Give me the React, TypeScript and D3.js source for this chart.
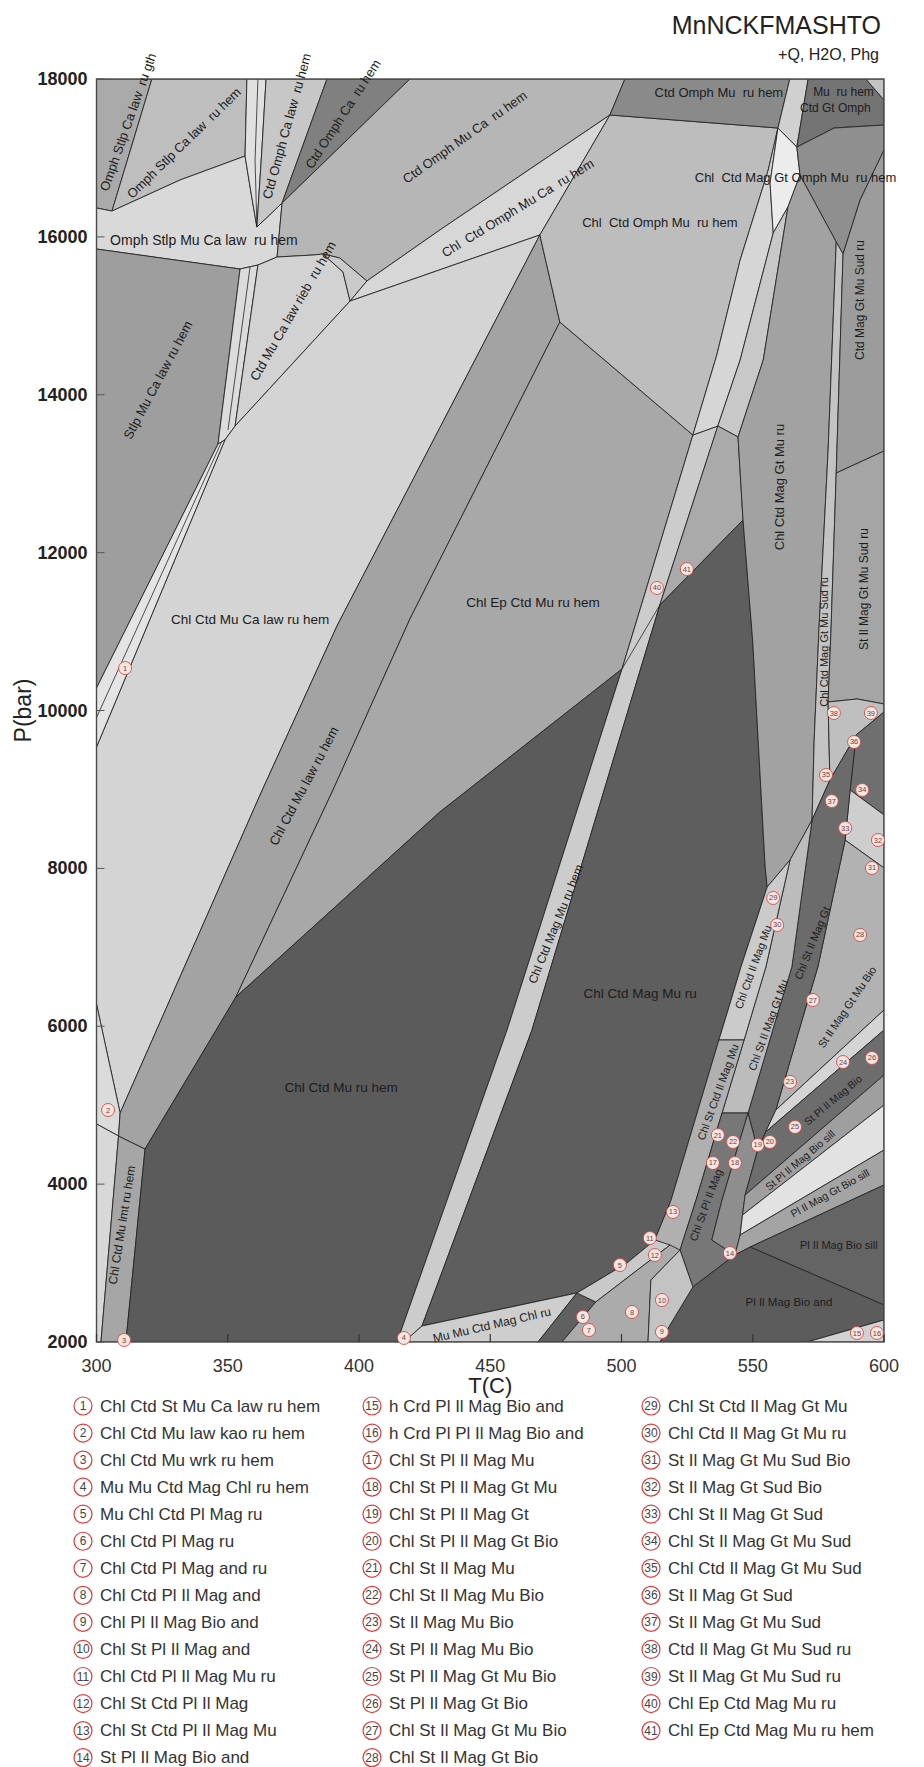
import React, { useRef, useEffect } from 'react';
import * as d3 from 'd3';

type Pt = [number, number];

// axis values
const tempTicks = [300, 350, 400, 450, 500, 550, 600];
const pressTicks = [2000, 4000, 6000, 8000, 10000, 12000, 14000, 16000, 18000];

// corner points of the assemblage fields, [T (C), P (bar)]
const nodes: Record<string, Pt> = {
  TL: [300, 18000], TR: [600, 18000], BL: [300, 2000], BR: [600, 2000],
  a2: [321.1, 18000], a3: [305.9, 16327], a4: [300, 16366], a5: [300, 15846],
  a6: [331.8, 16720], a7: [356.6, 17024], a8: [357.3, 18000], a9: [364.6, 18000],
  a10: [361.5, 18000], a11: [360.4, 16974], a12: [361.1, 16125], a13: [358.5, 16632],
  a14: [363.0, 17100], a15: [387.8, 18000], a16: [370.7, 16429], a17: [419.4, 18000],
  a18: [368.8, 15745], a19: [361.5, 15643], a20: [354.7, 15593], a21: [382.5, 15770],
  a22: [386.3, 15783], a23: [392.7, 15732], a24: [403.0, 15441], a25: [393.9, 15555],
  a26: [396.6, 15187], a28: [348.2, 13883], a29: [346.3, 13376], a30: [352.8, 13604],
  a31: [348.9, 13427], a32: [300, 10285], a33: [300, 9537], a34: [430.8, 16087],
  a35: [495.6, 17544], a36: [468.9, 16024], a37: [501.3, 18000], a38: [564.1, 18000],
  a39: [559.6, 17379],
  c1: [476.5, 14921], c2: [391.6, 11070], c3: [362.3, 8929], c4: [309.0, 4901],
  c5: [300, 6282], c6: [308.4, 4610], c7: [300, 4762], c8: [318.5, 4445],
  c9: [301.7, 2000], c10: [311.2, 2000], c11: [419.4, 11159], c12: [390.1, 8993],
  c13: [353.1, 6370], c14: [527.2, 13490], c15: [500.2, 10526], c16: [430.8, 8714],
  c18: [456.4, 5952], c19: [414.5, 2000], c20: [536.7, 13604], c21: [514.6, 11336],
  c22: [465.9, 5952], c23: [424.0, 2203], c24: [544.4, 13465], c25: [546.3, 12413],
  c26: [550.0, 10868], c27: [554.7, 8030], c28: [417.1, 2000],
  d1: [555.9, 16847], d2: [545.2, 15707], d3: [536.3, 14503], d4: [556.6, 16682],
  d5: [557.8, 16049], d6: [545.2, 14440], d7: [566.8, 17138], d8: [568.0, 16783],
  d9: [563.4, 16378], d10: [554.0, 14440],
  e1: [571.1, 18000], e2: [593.1, 18000], e3: [600, 17734], e4: [600, 17417],
  e5: [581.0, 17379], e6: [600, 17100], e7: [590.9, 16467], e8: [584.4, 15783],
  e9: [581.8, 15935],
  r1: [578.7, 13287], r2: [575.2, 11007], r3: [573.4, 9626], r4: [581.8, 13008],
  r5: [579.8, 11007], r6: [578.7, 10108], r7: [600, 13287], r8: [600, 10082], r9: [589.8, 10146],
  t0: [555.5, 7764], t1: [564.2, 8106], t2: [572.6, 8613], t3: [579.4, 9119], t4: [589.4, 9690], t5: [600, 9981],
  x1: [600, 8676], x2: [587.1, 8993], x3: [600, 8005], x4: [585.2, 8359],
  l0a: [545.5, 6751], l0b: [540.6, 6206], l0c: [537.1, 5826], l0d: [528.8, 4901], l0e: [518.9, 3799], l0f: [512.7, 3292],
  l1a: [555.0, 6751], l1b: [550.1, 6206], l1c: [546.7, 5826], l1d: [538.3, 4901], l1e: [528.4, 3799], l1f: [522.3, 3165],
  l2a: [564.9, 6751], l2b: [559.9, 6206], l2c: [548.2, 4901], l2d: [538.3, 3799], l2e: [534.4, 3292],
  l3a: [574.8, 6751], l3b: [569.9, 6206], l3c: [558.8, 4939],
  g1: [554.9, 4660], g2: [551.9, 4432], g3: [547.1, 3862], g4: [546.1, 3609], g5: [545.2, 3356], g6: [543.2, 3102], g7: [549.0, 3203],
  h1: [600, 6206], h2: [600, 5952], h3: [600, 5382], h4: [600, 5002], h5: [600, 4432], h6: [600, 3989], h7: [600, 2469], h8: [600, 2279],
  b1: [570.7, 2000], b2: [527.2, 2697], b3: [514.6, 2000], b4: [511.2, 2785], b5: [510.1, 2000], b6: [518.5, 3229],
  b7: [490.2, 2507], b8: [477.3, 2000], b9: [468.2, 2000], b10: [483.0, 2621], b11: [502.1, 3001],
  m1: [358.5, 15618], m2: [350.1, 13553], m3: [347.6, 13400], m4: [300, 9910],
};

// fields as rings of node names
const fields: { id: string; path: string[] }[] = [
  { id: 'f01', path: ['TL', 'a2', 'a3', 'a4'] },
  { id: 'f02', path: ['a2', 'a8', 'a7', 'a6', 'a3'] },
  { id: 'f03', path: ['a4', 'a3', 'a6', 'a7', 'a13', 'a12', 'a16', 'a18', 'a19', 'a20', 'a5'] },
  { id: 'f04', path: ['a8', 'a9', 'a14', 'a12', 'a13', 'a7'] },
  { id: 'f05', path: ['a9', 'a15', 'a16', 'a12', 'a14'] },
  { id: 'f06', path: ['a15', 'a17', 'a16'] },
  { id: 'f07', path: ['a17', 'a37', 'a35', 'a34', 'a24', 'a23', 'a22', 'a21', 'a18', 'a16'] },
  { id: 'f08', path: ['a5', 'a20', 'a28', 'a29', 'a32'] },
  { id: 'f09', path: ['a20', 'a19', 'a30', 'a31', 'a29', 'a28'] },
  { id: 'f10', path: ['a19', 'a18', 'a21', 'a22', 'a25', 'a26', 'a30'] },
  { id: 'f11', path: ['a22', 'a23', 'a24', 'a26', 'a25'] },
  { id: 'f12', path: ['a26', 'a24', 'a34', 'a35', 'a36'] },
  { id: 'f13', path: ['a30', 'a26', 'a36', 'c2', 'c3', 'c4', 'c5', 'a33', 'a31'] },
  { id: 'f14', path: ['a29', 'a31', 'a33', 'a32'] },
  { id: 'f15', path: ['c5', 'c4', 'c6', 'c7'] },
  { id: 'f16', path: ['c7', 'c6', 'c9', 'BL'] },
  { id: 'f17', path: ['c6', 'c8', 'c10', 'c9'] },
  { id: 'f18', path: ['a36', 'c1', 'c11', 'c12', 'c13', 'c8', 'c6', 'c4', 'c3', 'c2'] },
  { id: 'f19', path: ['c1', 'c14', 'c15', 'c16', 'c13', 'c12', 'c11'] },
  { id: 'f20', path: ['c8', 'c13', 'c16', 'c15', 'c18', 'c19', 'c10'] },
  { id: 'f21', path: ['c14', 'c20', 'c21', 'c22', 'c23', 'c28', 'c19', 'c18', 'c15'] },
  { id: 'f22', path: ['a35', 'a39', 'd1', 'd2', 'd3', 'c14', 'c1', 'a36'] },
  { id: 'f23', path: ['a37', 'a38', 'a39', 'a35'] },
  { id: 'f24', path: ['a39', 'd4', 'd5', 'd6', 'c20', 'c14', 'd3', 'd2', 'd1'] },
  { id: 'f25', path: ['a39', 'd7', 'd8', 'd9', 'd5', 'd4'] },
  { id: 'f26', path: ['d5', 'd9', 'd10', 'c24', 'c20', 'd6'] },
  { id: 'f27', path: ['c20', 'c24', 'c25', 'c21'] },
  { id: 'f28', path: ['c21', 'c25', 'c26', 'c27', 't0', 'l0a', 'l0b', 'l0c', 'l0d', 'l0e', 'l0f', 'b11', 'b10', 'c23', 'c22'] },
  { id: 'f29', path: ['c28', 'c23', 'b10', 'b9'] },
  { id: 'f30', path: ['a38', 'e1', 'd7', 'a39'] },
  { id: 'f31', path: ['e1', 'e2', 'e3', 'e4', 'e5', 'd7'] },
  { id: 'f32', path: ['e2', 'TR', 'e3'] },
  { id: 'f33', path: ['d7', 'e5', 'e4', 'e6', 'e7', 'e8', 'e9', 'd8'] },
  { id: 'f34', path: ['d8', 'e9', 'r1', 'r2', 'r3', 't2', 't1', 't0', 'c27', 'c26', 'c25', 'c24', 'd10', 'd9'] },
  { id: 'f35', path: ['e9', 'e8', 'r4', 'r5', 'r6', 't3', 't2', 'r3', 'r2', 'r1'] },
  { id: 'f36', path: ['e8', 'e7', 'e6', 'r7', 'r4'] },
  { id: 'f37', path: ['r4', 'r7', 'r8', 'r9', 'r6', 'r5'] },
  { id: 'f38', path: ['r6', 'r9', 'r8', 't5', 't4', 't3'] },
  { id: 'f39', path: ['t4', 't5', 'x1', 'x2'] },
  { id: 'f40', path: ['x2', 'x1', 'x3', 'x4'] },
  { id: 'f41', path: ['x4', 'x3', 'h1', 'l3c', 'l3b', 'l3a'] },
  { id: 'f42', path: ['t2', 't3', 't4', 'x2', 'x4', 'l3a', 'l3b', 'l3c', 'g1', 'g2', 'l2c', 'l2b', 'l2a'] },
  { id: 'f43', path: ['t1', 't2', 'l2a', 'l2b', 'l2c', 'l1d', 'l1c', 'l1b', 'l1a'] },
  { id: 'f44', path: ['t0', 't1', 'l1a', 'l1b', 'l1c', 'l0c', 'l0b', 'l0a'] },
  { id: 'f45', path: ['l0c', 'l1c', 'l1d', 'l1e', 'l1f', 'l0f', 'l0e', 'l0d'] },
  { id: 'f46', path: ['l1d', 'l2c', 'l2d', 'l2e', 'g6', 'b2', 'l1f', 'l1e'] },
  { id: 'f47', path: ['l2c', 'g2', 'g3', 'g4', 'g5', 'g6', 'l2e', 'l2d'] },
  { id: 'f48', path: ['l3c', 'h1', 'h2', 'g1'] },
  { id: 'f49', path: ['g1', 'h2', 'h3', 'g3', 'g2'] },
  { id: 'f50', path: ['g3', 'h3', 'h4', 'g4'] },
  { id: 'f51', path: ['g4', 'h4', 'h5', 'g5'] },
  { id: 'f52', path: ['g5', 'h5', 'h6', 'g7', 'g6'] },
  { id: 'f53', path: ['g7', 'h6', 'h7'] },
  { id: 'f54', path: ['b3', 'b2', 'g6', 'g7', 'h7', 'h8', 'b1'] },
  { id: 'f55', path: ['b1', 'h8', 'BR'] },
  { id: 'f56', path: ['b9', 'b10', 'b7', 'b8'] },
  { id: 'f57', path: ['b10', 'b11', 'l0f', 'b6', 'b7'] },
  { id: 'f58', path: ['b8', 'b7', 'b6', 'l1f', 'b4', 'b5'] },
  { id: 'f59', path: ['b5', 'b4', 'l1f', 'b2', 'b3'] },
];

const shades: Record<string, string> = {
  f01: '#aaaaaa', f02: '#bebebe', f03: '#d9d9d9', f04: '#e0e0e0', f05: '#c7c7c7',
  f06: '#808080', f07: '#b6b6b6', f08: '#9e9e9e', f09: '#dcdcdc', f10: '#d2d2d2',
  f11: '#cacaca', f12: '#d7d7d7', f13: '#d4d4d4', f14: '#e4e4e4', f15: '#dbdbdb',
  f16: '#d8d8d8', f17: '#a6a6a6', f18: '#a3a3a3', f19: '#a8a8a8', f20: '#5b5b5b',
  f21: '#cccccc', f22: '#bdbdbd', f23: '#8a8a8a', f24: '#d6d6d6', f25: '#ececec',
  f26: '#c8c8c8', f27: '#aaaaaa', f28: '#5e5e5e', f29: '#cecece', f30: '#d0d0d0',
  f31: '#747474', f32: '#c4c4c4', f33: '#8f8f8f', f34: '#a2a2a2', f35: '#c3c3c3',
  f36: '#9c9c9c', f37: '#a5a5a5', f38: '#bfbfbf', f39: '#6f6f6f', f40: '#cecece',
  f41: '#b2b2b2', f42: '#6b6b6b', f43: '#bcbcbc', f44: '#cbcbcb', f45: '#b0b0b0',
  f46: '#777777', f47: '#8e8e8e', f48: '#d5d5d5', f49: '#6d6d6d', f50: '#9f9f9f',
  f51: '#e2e2e2', f52: '#a4a4a4', f53: '#646464', f54: '#5c5c5c', f55: '#d2d2d2',
  f56: '#606060', f57: '#c9c9c9', f58: '#ababab', f59: '#c3c3c3',
};

// extra boundaries inside narrow strips
const innerLines: string[][] = [
  ['a10', 'a11', 'a12'],
  ['m1', 'm2'],
  ['m3', 'm4'],
  ['c15', 'c21'],
];

const fieldLabels: { text: string; t: number; p: number; a: number; s: number; anchor?: string }[] = [
  { text: 'Omph Stlp Ca law  ru gth', t: 312.0, p: 17455, a: -70.5, s: 13 },
  { text: 'Omph Stlp Ca law  ru hem', t: 333.3, p: 17189, a: -44, s: 13 },
  { text: 'Ctd Omph Ca law  ru hem', t: 372.5, p: 17404, a: -74.5, s: 13 },
  { text: 'Ctd Omph Ca  ru hem', t: 393.9, p: 17556, a: -57, s: 13 },
  { text: 'Omph Stlp Mu Ca law  ru hem', t: 340.9, p: 15960, a: 0, s: 14 },
  { text: 'Ctd Omph Mu Ca  ru hem', t: 440.3, p: 17265, a: -35.5, s: 13 },
  { text: 'Chl  Ctd Omph Mu Ca  ru hem', t: 460.5, p: 16366, a: -31.5, s: 13 },
  { text: 'Ctd Omph Mu  ru hem', t: 537.1, p: 17835, a: 0, s: 13 },
  { text: 'Chl  Ctd Omph Mu  ru hem', t: 514.6, p: 16188, a: 0, s: 13 },
  { text: 'Chl  Ctd Mag Gt Omph Mu  ru hem', t: 527.9, p: 16746, a: 0, s: 13, anchor: 'start' },
  { text: 'Mu  ru hem', t: 573.0, p: 17835, a: 0, s: 12, anchor: 'start' },
  { text: 'Ctd Gt Omph', t: 568.0, p: 17632, a: 0, s: 12, anchor: 'start' },
  { text: 'Stlp Mu Ca law ru hem', t: 323.4, p: 14187, a: -62, s: 13 },
  { text: 'Ctd Mu Ca law rieb  ru hem', t: 374.8, p: 15061, a: -60, s: 13 },
  { text: 'Chl Ctd Mu Ca law ru hem', t: 358.5, p: 11159, a: 0, s: 13.5 },
  { text: 'Chl Ctd Mu law ru hem', t: 379.0, p: 9043, a: -62, s: 13 },
  { text: 'Chl Ep Ctd Mu ru hem', t: 466.3, p: 11362, a: 0, s: 13.5 },
  { text: 'Chl Ctd Mu ru hem', t: 393.2, p: 5218, a: 0, s: 13.5 },
  { text: 'Chl Ctd Mu lmt ru hem', t: 309.7, p: 3482, a: -81, s: 12 },
  { text: 'Chl Ctd Mag Mu ru hem', t: 475.0, p: 7295, a: -68, s: 12 },
  { text: 'Chl Ctd Mag Mu ru', t: 507.1, p: 6421, a: 0, s: 13.5 },
  { text: 'Chl Ctd Mag Gt Mu ru', t: 560.3, p: 12831, a: -90, s: 13 },
  { text: 'Ctd Mag Gt Mu Sud ru', t: 590.8, p: 15200, a: -90, s: 12 },
  { text: 'Chl Ctd Mag Gt Mu Sud ru', t: 577.0, p: 10868, a: -90, s: 11 },
  { text: 'St Il Mag Gt Mu Sud ru', t: 592.3, p: 11539, a: -90, s: 12 },
  { text: 'Chl Ctd Il Mag Mu', t: 550.1, p: 6751, a: -70, s: 11 },
  { text: 'Chl St Ctd Il Mag Mu', t: 536.7, p: 5167, a: -70, s: 11 },
  { text: 'Chl St Il Mag Gt Mu', t: 555.8, p: 6016, a: -70, s: 11 },
  { text: 'Chl St Il Mag Gt', t: 572.6, p: 7055, a: -68, s: 11 },
  { text: 'St Il Mag Gt Mu Bio', t: 585.9, p: 6244, a: -56, s: 11 },
  { text: 'Chl St Pl Il Mag', t: 532.1, p: 3736, a: -70, s: 11 },
  { text: 'St Pl Il Mag Bio', t: 580.5, p: 5066, a: -40, s: 10.5 },
  { text: 'St Pl Il Mag Bio sill', t: 568.0, p: 4306, a: -40, s: 10.5 },
  { text: 'Pl Il Mag Gt Bio sill', t: 579.4, p: 3888, a: -29, s: 10.5 },
  { text: 'Pl Il Mag Bio sill', t: 568.0, p: 3229, a: 0, s: 11, anchor: 'start' },
  { text: 'Pl Il Mag Bio and', t: 563.8, p: 2507, a: 0, s: 11.5 },
  { text: 'Mu Mu Ctd Mag Chl ru', t: 450.6, p: 2215, a: -13, s: 12 },
];

// numbered small fields: [number, T, P]
const markers: [number, number, number][] = [
  [1, 310.9, 10538], [2, 304.4, 4939], [3, 310.5, 2025], [4, 417.1, 2051], [5, 499.4, 2975],
  [6, 485.3, 2317], [7, 487.6, 2152], [8, 504.0, 2380], [9, 515.4, 2127], [10, 515.4, 2532],
  [11, 510.8, 3317], [12, 512.7, 3102], [13, 519.6, 3647], [14, 541.3, 3127], [15, 589.7, 2114],
  [16, 597.3, 2114], [17, 534.8, 4268], [18, 543.2, 4268], [19, 551.9, 4496], [20, 556.5, 4534],
  [21, 536.7, 4622], [22, 542.5, 4534], [23, 564.2, 5294], [24, 584.4, 5547], [25, 566.1, 4724],
  [26, 595.4, 5598], [27, 572.9, 6332], [28, 590.9, 7156], [29, 557.8, 7625], [30, 559.3, 7283],
  [31, 595.4, 8005], [32, 597.7, 8359], [33, 585.2, 8511], [34, 591.7, 8993], [35, 577.9, 9183],
  [36, 588.6, 9601], [37, 580.1, 8853], [38, 580.9, 9968], [39, 595.0, 9968], [40, 513.5, 11552],
  [41, 524.9, 11792],
];

const legendItems = [
  'Chl Ctd St Mu Ca law ru hem', 'Chl Ctd Mu law kao ru hem', 'Chl Ctd Mu wrk ru hem',
  'Mu Mu Ctd Mag Chl ru hem', 'Mu Chl Ctd Pl Mag ru', 'Chl Ctd Pl Mag ru', 'Chl Ctd Pl Mag and ru',
  'Chl Ctd Pl Il Mag and', 'Chl Pl Il Mag Bio and', 'Chl St Pl Il Mag and', 'Chl Ctd Pl Il Mag Mu ru',
  'Chl St Ctd Pl Il Mag', 'Chl St Ctd Pl Il Mag Mu', 'St Pl Il Mag Bio and',
  'h Crd Pl Il Mag Bio and', 'h Crd Pl Pl Il Mag Bio and', 'Chl St Pl Il Mag Mu', 'Chl St Pl Il Mag Gt Mu',
  'Chl St Pl Il Mag Gt', 'Chl St Pl Il Mag Gt Bio', 'Chl St Il Mag Mu', 'Chl St Il Mag Mu Bio',
  'St Il Mag Mu Bio', 'St Pl Il Mag Mu Bio', 'St Pl Il Mag Gt Mu Bio', 'St Pl Il Mag Gt Bio',
  'Chl St Il Mag Gt Mu Bio', 'Chl St Il Mag Gt Bio',
  'Chl St Ctd Il Mag Gt Mu', 'Chl Ctd Il Mag Gt Mu ru', 'St Il Mag Gt Mu Sud Bio', 'St Il Mag Gt Sud Bio',
  'Chl St Il Mag Gt Sud', 'Chl St Il Mag Gt Mu Sud', 'Chl Ctd Il Mag Gt Mu Sud', 'St Il Mag Gt Sud',
  'St Il Mag Gt Mu Sud', 'Ctd Il Mag Gt Mu Sud ru', 'St Il Mag Gt Mu Sud ru', 'Chl Ep Ctd Mag Mu ru',
  'Chl Ep Ctd Mag Mu ru hem',
];

const W = 924;
const H = 1767;
const plot = { left: 96.5, right: 884, top: 79, bottom: 1342 };
const font = "'Liberation Sans', Arial, Helvetica, sans-serif";

const App: React.FC = () => {
  const ref = useRef<SVGSVGElement>(null);

  useEffect(() => {
    if (!ref.current) return;
    const svg = d3.select(ref.current);
    svg.selectAll('*').remove();

    const x = d3.scaleLinear().domain([300, 600]).range([plot.left, plot.right]);
    const y = d3.scaleLinear().domain([2000, 18000]).range([plot.bottom, plot.top]);
    const line = d3.line<Pt>().x(d => x(d[0])).y(d => y(d[1]));

    svg.append('rect').attr('width', W).attr('height', H).attr('fill', '#ffffff');

    svg.append('defs').append('clipPath').attr('id', 'plotClip')
      .append('rect')
      .attr('x', plot.left).attr('y', plot.top)
      .attr('width', plot.right - plot.left).attr('height', plot.bottom - plot.top);

    const g = svg.append('g').attr('clip-path', 'url(#plotClip)');

    g.selectAll('path.field')
      .data(fields)
      .enter()
      .append('path')
      .attr('class', 'field')
      .attr('d', f => line(f.path.map(k => nodes[k])) + 'Z')
      .attr('fill', f => shades[f.id])
      .attr('stroke', '#262626')
      .attr('stroke-width', 0.9)
      .attr('stroke-linejoin', 'round');

    g.selectAll('path.inner')
      .data(innerLines)
      .enter()
      .append('path')
      .attr('class', 'inner')
      .attr('d', l => line(l.map(k => nodes[k])))
      .attr('fill', 'none')
      .attr('stroke', '#262626')
      .attr('stroke-width', 0.8);

    // frame and inward ticks
    svg.append('rect')
      .attr('x', plot.left).attr('y', plot.top)
      .attr('width', plot.right - plot.left).attr('height', plot.bottom - plot.top)
      .attr('fill', 'none').attr('stroke', '#4a4a4a').attr('stroke-width', 1.4);

    svg.selectAll('line.xt').data(tempTicks).enter().append('line')
      .attr('x1', d => x(d)).attr('x2', d => x(d))
      .attr('y1', plot.bottom).attr('y2', plot.bottom - 8)
      .attr('stroke', '#333').attr('stroke-width', 1.2);
    svg.selectAll('line.yt').data(pressTicks).enter().append('line')
      .attr('y1', d => y(d)).attr('y2', d => y(d))
      .attr('x1', plot.left).attr('x2', plot.left + 8)
      .attr('stroke', '#555').attr('stroke-width', 1);

    svg.selectAll('text.xl').data(tempTicks).enter().append('text')
      .attr('x', d => x(d)).attr('y', plot.bottom + 30)
      .attr('text-anchor', 'middle')
      .attr('font-family', font).attr('font-size', 18).attr('fill', '#333')
      .text(d => d);
    svg.selectAll('text.yl').data(pressTicks).enter().append('text')
      .attr('x', plot.left - 9).attr('y', d => y(d))
      .attr('text-anchor', 'end').attr('dominant-baseline', 'central')
      .attr('font-family', font).attr('font-size', 18).attr('font-weight', 'bold').attr('fill', '#222')
      .text(d => d);

    svg.append('text')
      .attr('x', (plot.left + plot.right) / 2).attr('y', 1393)
      .attr('text-anchor', 'middle')
      .attr('font-family', font).attr('font-size', 22).attr('fill', '#222')
      .text('T(C)');
    svg.append('text')
      .attr('transform', `translate(31, ${y(10000)}) rotate(-90)`)
      .attr('text-anchor', 'middle')
      .attr('font-family', font).attr('font-size', 23).attr('fill', '#222')
      .text('P(bar)');

    svg.append('text')
      .attr('x', 881).attr('y', 34).attr('text-anchor', 'end')
      .attr('font-family', font).attr('font-size', 25).attr('fill', '#222')
      .text('MnNCKFMASHTO');
    svg.append('text')
      .attr('x', 879).attr('y', 60).attr('text-anchor', 'end')
      .attr('font-family', font).attr('font-size', 16).attr('fill', '#222')
      .text('+Q, H2O, Phg');

    // field names
    svg.selectAll('text.fl')
      .data(fieldLabels)
      .enter()
      .append('text')
      .attr('transform', d => `translate(${x(d.t)}, ${y(d.p)}) rotate(${d.a})`)
      .attr('text-anchor', d => d.anchor || 'middle')
      .attr('dominant-baseline', 'central')
      .attr('font-family', font)
      .attr('font-size', d => d.s)
      .attr('fill', '#1c1c1c')
      .style('white-space', 'pre')
      .text(d => d.text);

    // numbered markers
    const mk = svg.selectAll('g.mk').data(markers).enter().append('g')
      .attr('transform', d => `translate(${x(d[1])}, ${y(d[2])})`);
    mk.append('circle').attr('r', 6.5)
      .attr('fill', '#f4e6e0').attr('stroke', '#d44a4a').attr('stroke-width', 0.9);
    mk.append('text')
      .attr('text-anchor', 'middle').attr('dominant-baseline', 'central')
      .attr('font-family', font).attr('font-size', 7.5).attr('fill', '#7a3a3a')
      .text(d => d[0]);

    // legend
    const colX = [83, 372, 651];
    const rowH = 27.05;
    const lg = svg.selectAll('g.lg').data(legendItems).enter().append('g')
      .attr('transform', (d, i) => `translate(${colX[Math.floor(i / 14)]}, ${1406 + (i % 14) * rowH})`);
    lg.append('circle').attr('r', 9)
      .attr('fill', '#fff').attr('stroke', '#e03a3a').attr('stroke-width', 1.2);
    lg.append('text')
      .attr('text-anchor', 'middle').attr('dominant-baseline', 'central')
      .attr('font-family', font).attr('font-size', 12).attr('fill', '#444')
      .text((d, i) => i + 1);
    lg.append('text')
      .attr('x', 17).attr('dominant-baseline', 'central')
      .attr('font-family', font).attr('font-size', 17).attr('fill', '#333')
      .text(d => d);
  }, []);

  return (
    <svg
      ref={ref}
      width={W}
      height={H}
      style={{ position: 'absolute', left: 0, top: 0, display: 'block' }}
    ></svg>
  );
};

export default App;
